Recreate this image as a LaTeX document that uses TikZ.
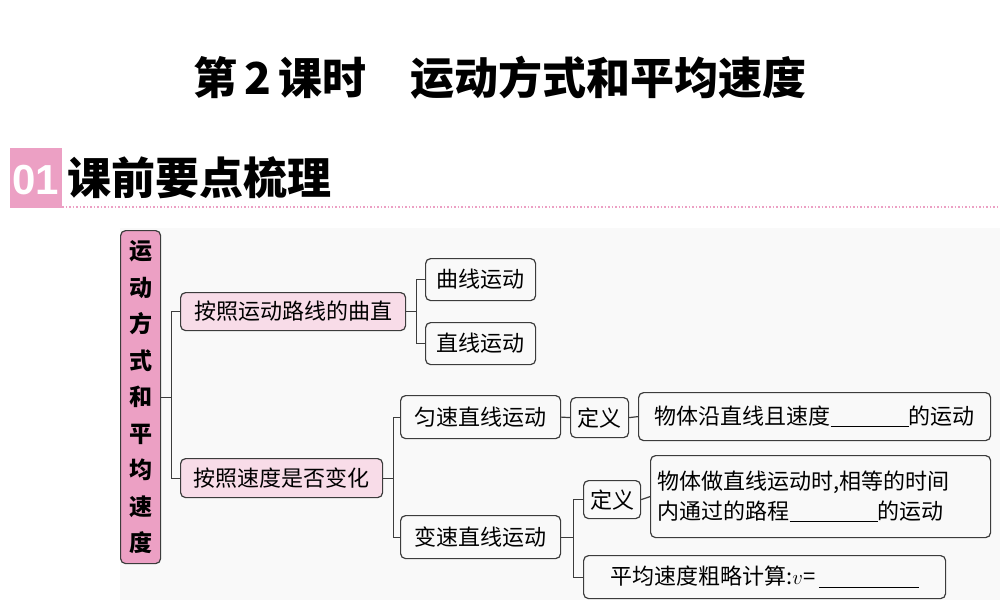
\documentclass[tikz,border=0pt]{standalone}
\usepackage{fontspec}
\setmainfont{Noto Sans CJK SC}
\newfontfamily\numfont{Liberation Sans}
\definecolor{pk}{RGB}{236,160,196}
\definecolor{pkl}{RGB}{248,220,232}
\definecolor{ln}{RGB}{60,60,60}
\begin{document}
\begin{tikzpicture}[x=1pt,y=-1pt,
  bx/.style={draw=ln,line width=1.2pt,rounded corners=5pt,inner sep=0pt,font=\fontsize{22}{26}\selectfont,anchor=north west},
  pbx/.style={bx,fill=pkl},
  cn/.style={draw=ln,line width=1.2pt}]
\useasboundingbox (0,0) rectangle (1000,600);
\fill[gray!5] (120,228) rectangle (1000,600);
\node[font=\fontsize{44}{46}\selectfont\bfseries] (title) at (500,78) {第\,2\,课时\quad 运动方式和平均速度};
\fill[pk] (10,148) rectangle (62,208);
\node[text=white,font=\fontsize{42}{44}\selectfont\bfseries\numfont] (n01) at (36,180) {01};
\node[anchor=west,font=\fontsize{44}{46}\selectfont\bfseries] (hd) at (64,178) {课前要点梳理};
\draw[pk,dotted,line width=1.5pt] (62,207) -- (1000,207);
\node[pbx,fill=pk,minimum width=40pt,minimum height=333pt,text width=40pt,align=center,font=\fontsize{23}{36.5}\selectfont\bfseries] (m) at (120,230) {运\\动\\方\\式\\和\\平\\均\\速\\度};
\node[pbx,minimum width=225pt,minimum height=38pt] (a) at (180,292) {按照运动路线的曲直};
\node[pbx,minimum width=202pt,minimum height=39pt] (b) at (180,458) {按照速度是否变化};
\node[bx,minimum width=110pt,minimum height=42pt] (a1) at (425,258) {曲线运动};
\node[bx,minimum width=110pt,minimum height=42pt] (a2) at (425,322) {直线运动};
\node[bx,minimum width=160pt,minimum height=43pt] (b1) at (400,395) {匀速直线运动};
\node[bx,minimum width=58pt,minimum height=40pt] (d1) at (570,397) {定义};
\node[bx,minimum width=352pt,minimum height=48pt] (e1) at (638,392) {物体沿直线且速度\rule[-3pt]{78pt}{1pt}的运动};
\node[bx,minimum width=160pt,minimum height=43pt] (b2) at (400,515) {变速直线运动};
\node[bx,minimum width=57pt,minimum height=38pt] (d2) at (583,480) {定义};
\node[bx,minimum width=340pt,minimum height=82pt,text width=326pt,align=left,font=\fontsize{22}{30}\selectfont] (e2) at (650,455) {物体做直线运动时,相等的时间\\内通过的路程\rule[-3pt]{88pt}{1pt}的运动};
\node[bx,minimum width=362pt,minimum height=43pt] (f2) at (583,555) {平均速度粗略计算:$v$=\,\rule[-3pt]{100pt}{1pt}};
\draw[cn] (m.east) -- ++(10,0) coordinate (j1);
\draw[cn] (a.west) -| (j1) |- (b.west);
\draw[cn] (a.east) -- ++(10,0) coordinate (j2);
\draw[cn] (a1.west) -| (j2) |- (a2.west);
\draw[cn] (b.east) -- ++(10,0) coordinate (j3);
\draw[cn] (b1.west) -| (j3) |- (b2.west);
\draw[cn] (b1.east) -- (d1.west);
\draw[cn] (d1.east) -- (e1.west);
\draw[cn] (b2.east) -- ++(12,0) coordinate (j4);
\draw[cn] (d2.west) -| (j4) |- (f2.west);
\draw[cn] (d2.east) -- (e2.west);
\end{tikzpicture}
\end{document}
